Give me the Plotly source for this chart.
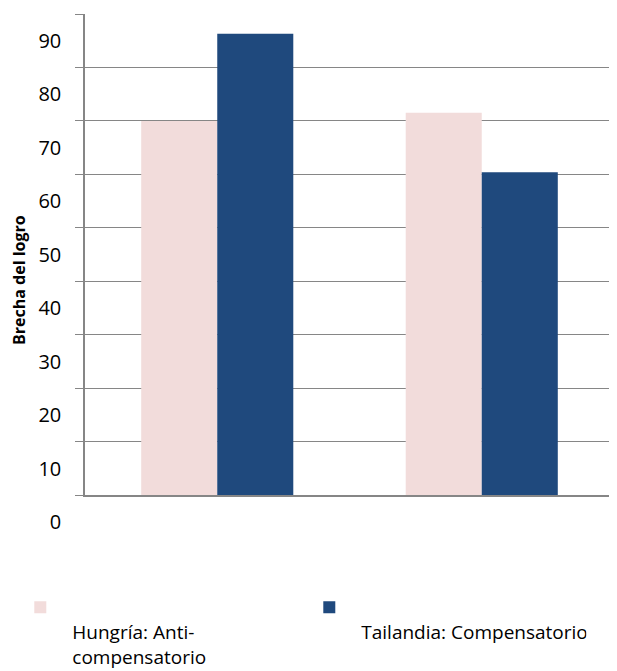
import plotly.graph_objects as go

categories = ["Hungría", "Tailandia"]
series_names = ["<br>Hungría: Anti-<br>compensatorio", "<br>Tailandia: Compensatorio"]
pink_values = [70.0, 71.5]
blue_values = [86.3, 60.4]
y_ticks = [0, 10, 20, 30, 40, 50, 60, 70, 80, 90]
y_title = "Brecha del logro"
colors = ["#F2DCDB", "#1F497D"]

FONT = "Open Sans"

fig = go.Figure()
fig.add_trace(go.Bar(x=categories, y=pink_values, name=series_names[0],
                     marker=dict(color=colors[0], line=dict(width=0))))
fig.add_trace(go.Bar(x=categories, y=blue_values, name=series_names[1],
                     marker=dict(color=colors[1], line=dict(width=0))))

fig.update_layout(
    width=609, height=663,
    margin=dict(l=77, r=3, t=6, b=176, autoexpand=False),
    paper_bgcolor="white", plot_bgcolor="white",
    barmode="group", bargap=0.425, bargroupgap=0,
    font=dict(family=FONT, color="#000000"),
    showlegend=True,
    legend=dict(orientation="h", x=-0.145, xanchor="left", y=-0.194, yanchor="top",
                valign="top", itemwidth=54, entrywidth=220, entrywidthmode="pixels",
                font=dict(family=FONT, size=19, color="#000000"),
                traceorder="normal"),
    annotations=[dict(text="<b>" + y_title + "</b>", textangle=-90,
                      xref="paper", yref="paper", x=-0.1248, y=0.447,
                      xanchor="center", yanchor="middle", showarrow=False,
                      font=dict(family=FONT, size=16, color="#000000"))],
)
fig.update_xaxes(showticklabels=False, showgrid=False, showline=True,
                 linecolor="#868686", linewidth=1.5, ticks="", automargin=False)
fig.update_yaxes(range=[0, 90], tickvals=y_ticks, ticktext=[str(v) for v in y_ticks],
                 showgrid=True, gridcolor="#868686", gridwidth=1.3,
                 showline=True, linecolor="#868686", linewidth=1.5,
                 ticks="outside", ticklen=8, tickcolor="#868686", tickwidth=1.3,
                 ticklabelshift=27, ticklabelstandoff=10, automargin=False,
                 tickfont=dict(family=FONT, size=20, color="#000000"),
                 zeroline=False)

fig.write_html("out.html")
